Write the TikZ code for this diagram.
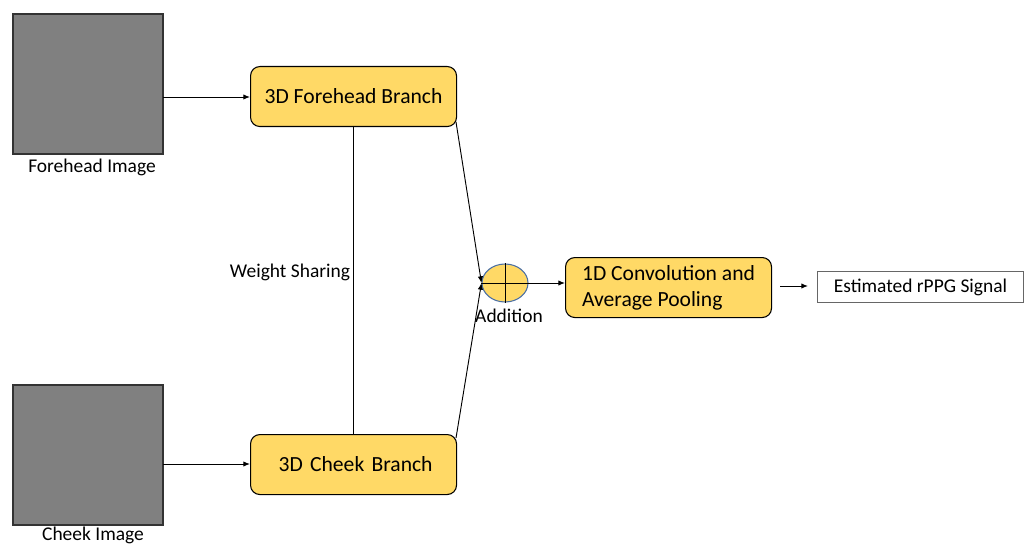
\documentclass[tikz,border=0pt]{standalone}
\usepackage{fontspec}
\setmainfont{Carlito}
\usetikzlibrary{arrows.meta,shapes.geometric}
\definecolor{boxyellow}{HTML}{FFD966}
\definecolor{imggray}{HTML}{808080}
\definecolor{ringblue}{HTML}{4A6FA5}
\tikzset{
  px/.style={x=0.75pt,y=-0.75pt},
  imgbox/.style={draw=black!80,fill=imggray,line width=0.8pt},
  branchbox/.style={draw=black,fill=boxyellow,rounded corners=7pt,line width=0.8pt,font=\fontsize{16.2}{19}\selectfont},
  lbl/.style={font=\fontsize{14.6}{17}\selectfont,inner sep=0pt},
  arr/.style={-{Latex[length=5pt,width=4pt]},line width=0.7pt},
  ln/.style={line width=0.7pt},
}
\begin{document}
\begin{tikzpicture}[px]
\useasboundingbox (0,0) rectangle (1030,545);
% images
\draw[imgbox] (13,14) rectangle (163,154);
\coordinate (fimgR) at (163,97);
\node[lbl] (flab) at (92,167) {Forehead Image};
\draw[imgbox] (13,385) rectangle (163,525);
\coordinate (cimgR) at (163,464);
\node[lbl] (clab) at (93,535) {Cheek Image};
% branches
\node[branchbox,minimum width=206*0.75pt,minimum height=60*0.75pt,anchor=north west] (fb) at (250,66) {3D Forehead Branch};
\node[branchbox,minimum height=60*0.75pt,anchor=north west,inner xsep=18pt,text width=118.5pt,align=right] (cb) at (250,434) {3D Cheek Branch};
% arrows from images
\draw[arr] (fimgR) -- (fb.west |- fimgR);
\draw[arr] (cimgR) -- (cb.west |- cimgR);
% weight sharing
\coordinate (wsT) at (353,126);
\coordinate (wsB) at (353,434);
\draw[ln] (wsT) -- (wsB);
\node[lbl] (ws) at (290,272) {Weight Sharing};
% addition
\node[ellipse,draw=ringblue,fill=boxyellow,line width=0.8pt,minimum width=46*0.75pt,minimum height=38*0.75pt,inner sep=0pt] (add) at (505,283) {};
\draw[ln] (add.north) -- (add.south);
\draw[ln] (add.west) -- (add.east);
\node[lbl] (addl) at (509,316) {Addition};
\coordinate (fbc) at (456,122);
\coordinate (cbc) at (456,438);
\draw[arr] (fbc) -- (add.west);
\draw[arr] (cbc) -- (add.west);
% conv box
\node[branchbox,minimum width=206*0.75pt,minimum height=60*0.75pt,anchor=north west,align=left,font=\fontsize{16.2}{19.5}\selectfont] (conv) at (565,257) {1D Convolution and\\Average Pooling};
\draw[arr] (add.east) -- (conv.west |- add.east);
% output
\node[draw=black!60,fill=white,line width=0.7pt,minimum width=206*0.75pt,minimum height=31*0.75pt,anchor=north west,font=\fontsize{14.6}{17}\selectfont] (out) at (817,271) {Estimated rPPG Signal};
\coordinate (oarrS) at (780,286);
\draw[arr] (oarrS) -- (808,286) coordinate (oarrE);
\end{tikzpicture}
\end{document}
